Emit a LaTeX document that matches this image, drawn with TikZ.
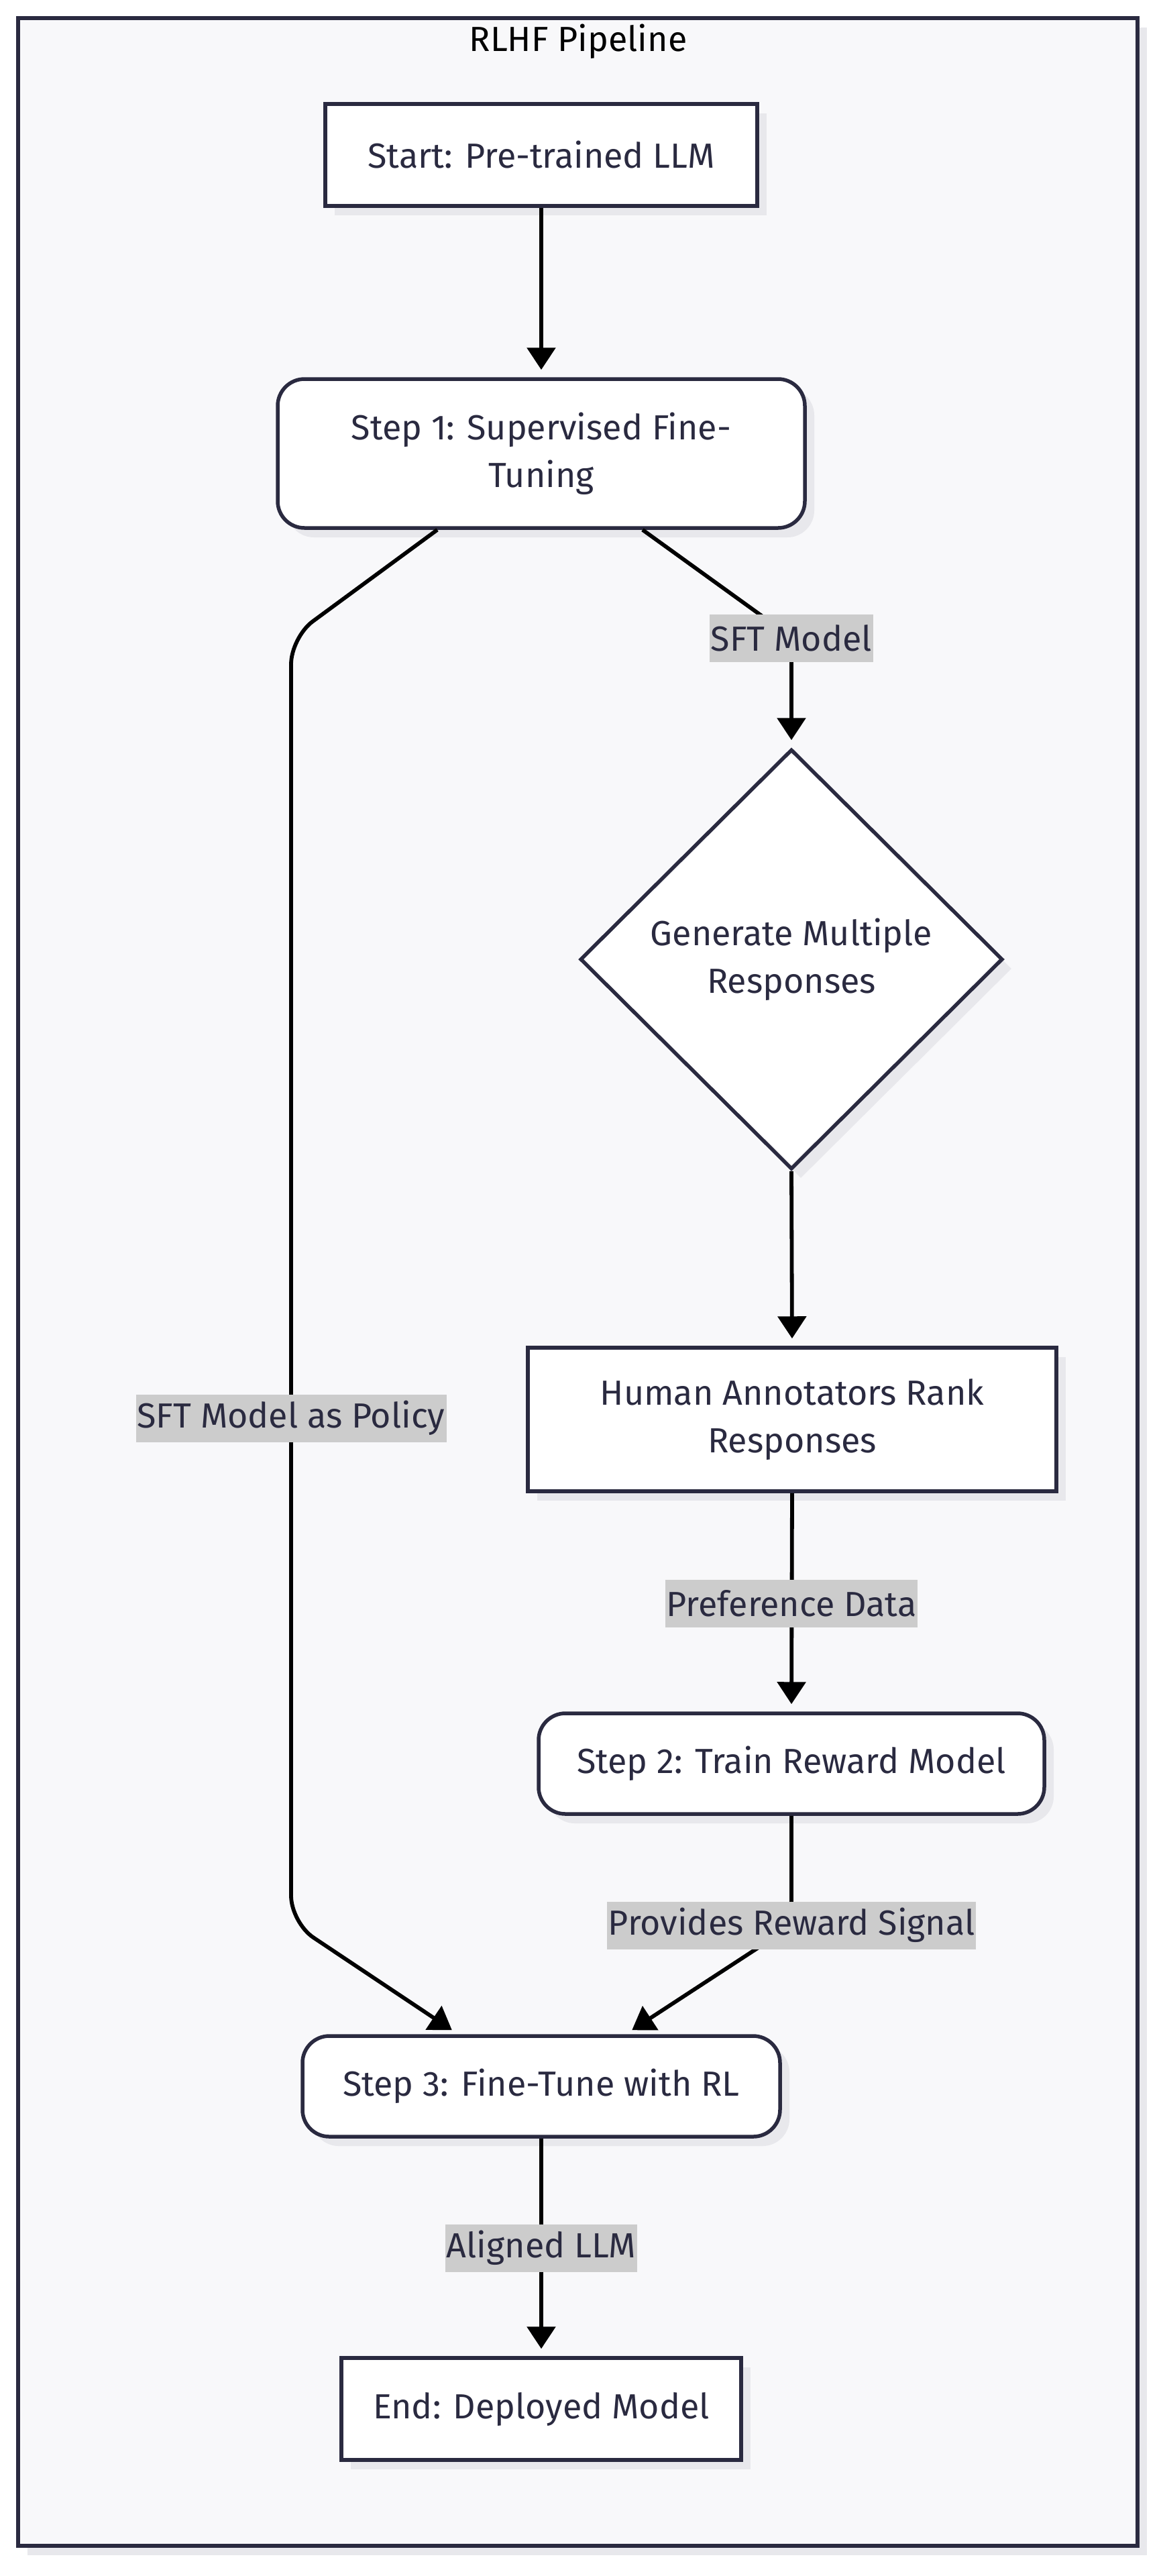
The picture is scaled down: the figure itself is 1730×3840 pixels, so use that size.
\documentclass[tikz,border=0pt]{standalone}
\usepackage{fontspec}
\setmainfont{Fira Sans}
\usetikzlibrary{arrows.meta,shapes.geometric,shadows,calc}
\definecolor{framefill}{RGB}{248,248,250}
\definecolor{navy}{RGB}{42,42,64}
\definecolor{shadowc}{RGB}{232,232,236}
\definecolor{labelbg}{RGB}{204,204,204}
\begin{document}
\begin{tikzpicture}[x=0.5pt,y=-0.5pt,
  font=\fontsize{26pt}{35.5pt}\selectfont,
  myshadow/.style={drop shadow={shadow xshift=7pt,shadow yshift=-7pt,fill=shadowc,opacity=1}},
  box/.style={draw=navy, line width=2.75pt, fill=white, text=navy, align=center, inner sep=0pt, myshadow},
  sharpbox/.style={box, rectangle},
  roundbox/.style={box, rectangle, rounded corners=20pt},
  decision/.style={box, diamond, aspect=1},
  edge/.style={draw=black, line width=2.9pt, rounded corners=20pt, -{Triangle[width=21pt,length=16.5pt]}, shorten >=5.5pt},
  elabel/.style={fill=labelbg, text=navy, inner xsep=1pt, inner ysep=0pt, minimum height=35.5pt}
]
\useasboundingbox (0,0) rectangle (1730,3840);
% frame
\path[draw=navy, line width=2.75pt, fill=framefill, myshadow] (27,27) rectangle (1696,3795);
\node[text=black] (title) at (862,62) {RLHF Pipeline};

% nodes
\node[sharpbox, minimum width=322pt, minimum height=76pt] (start) at (807,231) {Start: Pre-trained LLM};
\node[roundbox, minimum width=393pt, minimum height=111pt] (s1) at (807,676) {Step 1: Supervised Fine-\\Tuning};
\node[decision, minimum width=315pt, minimum height=313pt] (dia) at (1180,1430) {Generate Multiple\\Responses};
\node[sharpbox, minimum width=394pt, minimum height=107pt] (hum) at (1181,2116) {Human Annotators Rank\\Responses};
\node[roundbox, minimum width=377pt, minimum height=75pt] (s2) at (1180,2629) {Step 2: Train Reward Model};
\node[roundbox, minimum width=356pt, minimum height=75pt] (s3) at (807,3110) {Step 3: Fine-Tune with RL};
\node[sharpbox, minimum width=298pt, minimum height=76pt] (end) at (807,3591) {End: Deployed Model};

% bend points
\coordinate (r1) at (1180,950);
\coordinate (l1) at (434,950);
\coordinate (l2) at (434,2866);
\coordinate (r2) at (1180,2871);

% edges
\draw[edge] (start.south) -- (s1.north);
\draw[edge] ($(s1.south)+(151,0)$) -- (r1) -- (dia.north);
\draw[edge] ($(s1.south)+(-155,0)$) -- (l1) -- (l2) -- ($(s3.north)+(-124,0)$);
\draw[edge] (dia.south) -- (hum.north);
\draw[edge] (hum.south) -- (s2.north);
\draw[edge] (s2.south) -- (r2) -- ($(s3.north)+(126,0)$);
\draw[edge] (s3.south) -- (end.north);

% edge labels
\node[elabel] (lab1) at (1180,951) {SFT Model};
\node[elabel] (lab2) at (434,2114) {SFT Model as Policy};
\node[elabel] (lab3) at (1180,2390) {Preference Data};
\node[elabel] (lab4) at (1180,2870) {Provides Reward Signal};
\node[elabel] (lab5) at (807,3351) {Aligned LLM};
\end{tikzpicture}
\end{document}
